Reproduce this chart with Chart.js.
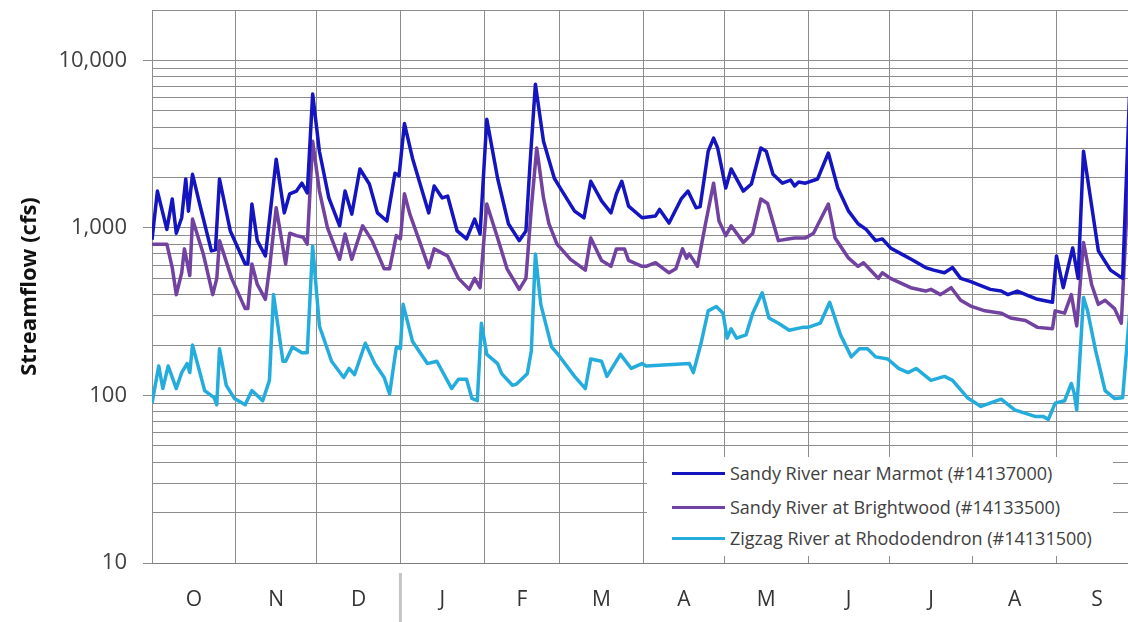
<!DOCTYPE html>
<html>
<head>
<meta charset="utf-8">
<script src="https://cdn.jsdelivr.net/npm/chart.js@4.4.1/dist/chart.umd.min.js"></script>
<style>
  html, body { margin: 0; padding: 0; background: #fff; overflow: hidden; }
  #wrap { position: relative; width: 1128px; height: 622px; overflow: hidden; }
  #flowChart { position: absolute; left: 0; top: 0; }
  #legend { position: absolute; left: 647px; top: 457px; width: 466px; height: 99px; background: #fff;
            font-family: 'Open Sans', sans-serif; font-size: 18px; color: #404040; }
  .row { position: absolute; left: 25px; height: 24px; display: flex; align-items: center; white-space: nowrap; }
  .swatch { width: 53px; height: 3px; margin-right: 5px; }
</style>
</head>
<body>
<div id="wrap">
  <canvas id="flowChart" width="1140" height="622"></canvas>
  <div id="legend"></div>
</div>
<script>
// water year, day 0 = Oct 1
const monthStarts = [0, 31, 61, 92, 123, 151, 182, 212, 243, 273, 304, 335, 365];
const monthLabels = ['O', 'N', 'D', 'J', 'F', 'M', 'A', 'M', 'J', 'J', 'A', 'S'];
const yLabelValues = [10, 100, 1000, 10000];
const yMin = 10;
const yMax = 20000;

const seriesNames = [
  'Sandy River near Marmot (#14137000)',
  'Sandy River at Brightwood (#14133500)',
  'Zigzag River at Rhododendron (#14131500)'
];
const seriesColors = ['#1414c0', '#7142a0', '#24acdc'];

// Sandy River near Marmot
const marmotDays = [
  0, 2, 5.5, 7.5, 9, 11, 12.5, 13.5, 15, 18,
  22, 23.5, 25, 29, 34.5, 35.5, 37, 39, 42, 46,
  49, 51, 53.5, 55.5, 57.5, 59.5, 62, 65.5, 69.5, 71.5,
  74, 77, 80.5, 83.5, 87, 90, 91.5, 93.5, 96.5, 102.5,
  104.5, 107.5, 109.5, 113, 116.5, 119.5, 121.5, 124, 128, 132,
  136, 138.5, 140, 142, 145, 149, 151.5, 156.5, 160, 162.5,
  166.5, 170, 172, 174, 176.5, 181.5, 186.5, 188, 191.5, 196,
  198.5, 201.5, 203, 206, 208, 209.5, 212.5, 214.5, 219, 222,
  225.5, 227.5, 230, 233.5, 236.5, 238, 239.5, 242, 246.5, 250.5,
  254, 258, 261.5, 264.5, 268, 270.5, 273.5, 277.5, 282, 286.5,
  289.5, 293.5, 296.5, 299.5, 303, 310.5, 314.5, 317, 320.5, 324.5,
  328, 333.5, 335, 337.5, 341, 343, 345, 350.5, 355, 359.5,
  362, 365
];
const marmotFlow = [
  850, 1660, 980, 1490, 930, 1150, 1960, 1260, 2090, 1320,
  730, 740, 1960, 960, 610, 610, 1390, 840, 680, 2570,
  1230, 1600, 1660, 1850, 1620, 6300, 2870, 1510, 1030, 1660,
  1210, 2250, 1830, 1230, 1100, 2120, 2050, 4200, 2600, 1230,
  1780, 1510, 1550, 960, 860, 1130, 920, 4450, 1980, 1060,
  840, 960, 2400, 7200, 3290, 1980, 1700, 1260, 1150, 1900,
  1450, 1230, 1600, 1900, 1350, 1150, 1180, 1290, 1070, 1490,
  1660, 1320, 1340, 2870, 3440, 3000, 1730, 2250, 1660, 1830,
  3000, 2870, 2090, 1850, 1930, 1780, 1880, 1850, 1960, 2800,
  1730, 1260, 1060, 980, 840, 860, 760, 700, 640, 580,
  560, 540, 580, 500, 480, 430, 420, 400, 420, 395,
  375, 360, 680, 440, 760, 500, 2870, 730, 560, 500,
  6000, 9000
];

// Sandy River at Brightwood
const brightwoodDays = [
  0, 5.5, 7.5, 9, 11, 12, 14, 15, 19, 22.5,
  24, 25, 29.5, 34.5, 35.5, 37, 39, 42, 43.5, 46,
  49.5, 51, 53.5, 56, 57.5, 59.5, 62, 65, 69.5, 71.5,
  74, 78, 81.5, 86, 88, 90.5, 92, 93.5, 95.5, 99,
  102.5, 104.5, 108, 109.5, 113.5, 117.5, 119.5, 121.5, 124, 128,
  131.5, 136, 138.5, 140.5, 142.5, 145, 147, 150, 155, 160.5,
  162.5, 166.5, 170, 172, 175, 176.5, 181.5, 183, 186.5, 191.5,
  194, 196.5, 198, 199, 202, 205, 208, 210, 212.5, 214.5,
  219, 222.5, 225.5, 228, 232, 235.5, 238, 242, 245, 250.5,
  253, 258, 261.5, 263.5, 269, 270.5, 273.5, 281, 286.5, 288.5,
  292, 296, 299.5, 303.5, 308.5, 314.5, 318, 323.5, 328, 333.5,
  334.5, 338, 340.5, 342.5, 345, 348, 350.5, 353, 356.5, 359,
  362, 365
];
const brightwoodFlow = [
  800, 800, 580, 400, 540, 750, 520, 1130, 700, 400,
  500, 840, 500, 330, 330, 610, 460, 375, 570, 1320,
  610, 930, 900, 880, 800, 3290, 1660, 1000, 650, 920,
  650, 1030, 840, 570, 570, 900, 860, 1600, 1210, 840,
  580, 750, 700, 680, 500, 430, 500, 440, 1390, 870,
  570, 430, 500, 1320, 3000, 1510, 1060, 800, 650, 560,
  870, 640, 590, 750, 750, 640, 590, 590, 620, 540,
  570, 750, 660, 700, 590, 1060, 1850, 1100, 900, 1030,
  820, 930, 1490, 1400, 840, 860, 870, 870, 930, 1390,
  870, 660, 590, 620, 500, 540, 500, 440, 420, 430,
  400, 440, 370, 340, 320, 310, 290, 280, 255, 250,
  320, 310, 400, 260, 820, 460, 350, 370, 330, 270,
  2500, 4000
];

// Zigzag River at Rhododendron
const zigzagDays = [
  0, 2.5, 4, 6, 9, 11, 13, 14, 15, 19.5,
  23, 24, 25, 27.5, 30.5, 34.5, 37, 41, 43.5, 45,
  48.5, 49.5, 52, 55.5, 57.5, 59.5, 62, 66.5, 71, 73,
  75, 79, 82.5, 86, 88, 90.5, 92, 93, 96.5, 102,
  105.5, 111, 113.5, 116.5, 118.5, 120.5, 122, 124, 128, 129.5,
  133.5, 135, 139, 140.5, 142, 144, 148, 150.5, 156.5, 160.5,
  162.5, 166.5, 168.5, 173.5, 177.5, 181.5, 183, 199, 200.5, 203.5,
  206, 209, 211.5, 213, 214.5, 216.5, 220, 222.5, 226, 228.5,
  232, 236, 241, 243, 247.5, 251, 255, 259, 262, 265,
  268, 272.5, 276.5, 280, 283, 288.5, 293.5, 296.5, 302, 307,
  314.5, 319.5, 327, 330, 332, 334.5, 338, 340.5, 341.5, 342.5,
  345, 346.5, 349.5, 353, 356.5, 359.5, 362, 365
];
const zigzagFlow = [
  90, 150, 110, 150, 110, 137, 155, 137, 200, 107,
  97, 88, 190, 115, 96, 88, 107, 93, 123, 400,
  160, 160, 195, 180, 180, 780, 260, 160, 128, 145,
  133, 205, 155, 128, 102, 195, 190, 350, 210, 155,
  160, 110, 125, 125, 96, 93, 270, 176, 155, 135,
  115, 117, 135, 185, 700, 350, 195, 175, 130, 110,
  165, 160, 130, 176, 145, 155, 150, 155, 137, 210,
  320, 340, 310, 220, 250, 220, 230, 310, 410, 290,
  270, 245, 255, 255, 270, 360, 230, 170, 190, 190,
  170, 165, 145, 137, 145, 123, 130, 123, 97, 86,
  95, 82, 75, 75, 72, 90, 93, 118, 104, 82,
  385, 320, 185, 107, 96, 97, 300, 500
];

const seriesDays = [marmotDays, brightwoodDays, zigzagDays];
const seriesFlow = [marmotFlow, brightwoodFlow, zigzagFlow];

// gridlines at 1..9 x each decade
function logGridValues() {
  const vals = [];
  for (let p = yMin; p < yMax; p *= 10) {
    for (let m = 1; m < 10; m++) {
      if (m * p <= yMax) vals.push(m * p);
    }
  }
  return vals;
}

const monthMids = monthLabels.map((l, i) => (monthStarts[i] + monthStarts[i + 1]) / 2);
const gridGray = '#8c8c8c';

// grey divider under the axis between Dec and Jan
const yearDivider = {
  id: 'yearDivider',
  afterDraw(chart) {
    const x = chart.scales.x.getPixelForValue(monthStarts[3]);
    const ctx = chart.ctx;
    ctx.save();
    ctx.strokeStyle = '#c4c4c4';
    ctx.lineWidth = 3;
    ctx.beginPath();
    ctx.moveTo(x, chart.chartArea.bottom + 10);
    ctx.lineTo(x, chart.height);
    ctx.stroke();
    ctx.restore();
  }
};

const ctx = document.getElementById('flowChart').getContext('2d');
new Chart(ctx, {
  type: 'line',
  data: {
    datasets: seriesNames.map((name, i) => ({
      label: name,
      data: seriesDays[i].map((d, j) => ({ x: d, y: seriesFlow[i][j] })),
      borderColor: seriesColors[i],
      backgroundColor: seriesColors[i],
      borderWidth: 3.5,
      pointRadius: 0,
      tension: 0,
      borderJoinStyle: 'round'
    }))
  },
  options: {
    responsive: false,
    animation: false,
    devicePixelRatio: 1,
    layout: { padding: { left: 0, top: 10, right: 2.5, bottom: 0 } },
    plugins: {
      legend: { display: false },
      tooltip: { enabled: false }
    },
    scales: {
      x: {
        type: 'linear',
        min: 0,
        max: 365,
        afterBuildTicks: function(scale) {
          const vals = monthStarts.concat(monthMids).sort((a, b) => a - b);
          scale.ticks = vals.map(v => ({ value: v }));
        },
        afterFit: function(scale) {
          scale.height = 59;
          scale.paddingLeft = 0;
          scale.paddingRight = 0;
        },
        border: { color: '#7c7c7c', width: 1 },
        grid: {
          drawTicks: false,
          lineWidth: 1,
          color: c => (c.tick && monthStarts.includes(c.tick.value)) ? gridGray : 'rgba(0,0,0,0)'
        },
        ticks: {
          autoSkip: false,
          maxRotation: 0,
          padding: 24,
          color: '#333',
          font: { family: 'Open Sans', size: 21 },
          callback: function(value) {
            const i = monthMids.indexOf(value);
            return i >= 0 ? monthLabels[i] : '';
          }
        }
      },
      y: {
        type: 'logarithmic',
        min: yMin,
        max: yMax,
        afterBuildTicks: function(scale) {
          scale.ticks = logGridValues().map(v => ({ value: v }));
        },
        afterFit: function(scale) {
          scale.width = 152;
          scale.paddingTop = 0;
          scale.paddingBottom = 0;
        },
        border: { color: gridGray, width: 1 },
        grid: {
          lineWidth: 1,
          color: gridGray,
          tickLength: 9,
          tickColor: c => (c.tick && yLabelValues.includes(c.tick.value)) ? gridGray : 'rgba(0,0,0,0)'
        },
        ticks: {
          autoSkip: false,
          padding: 16,
          color: '#404040',
          font: { family: 'Open Sans', size: 22 },
          callback: function(value) {
            return yLabelValues.includes(value) ? value.toLocaleString('en-US') : '';
          }
        },
        title: {
          display: true,
          text: 'Streamflow (cfs)',
          color: '#111',
          padding: { top: 17, bottom: 0 },
          font: { family: 'Open Sans', size: 22, weight: 'bold' }
        }
      }
    }
  },
  plugins: [yearDivider]
});

// legend box in the lower right of the plot
const legendTops = [4, 38, 69];
const legendBox = document.getElementById('legend');
seriesNames.forEach((name, i) => {
  const row = document.createElement('div');
  row.className = 'row';
  row.style.top = legendTops[i] + 'px';
  const sw = document.createElement('span');
  sw.className = 'swatch';
  sw.style.background = seriesColors[i];
  const txt = document.createElement('span');
  txt.textContent = name;
  row.appendChild(sw);
  row.appendChild(txt);
  legendBox.appendChild(row);
});
</script>
</body>
</html>
